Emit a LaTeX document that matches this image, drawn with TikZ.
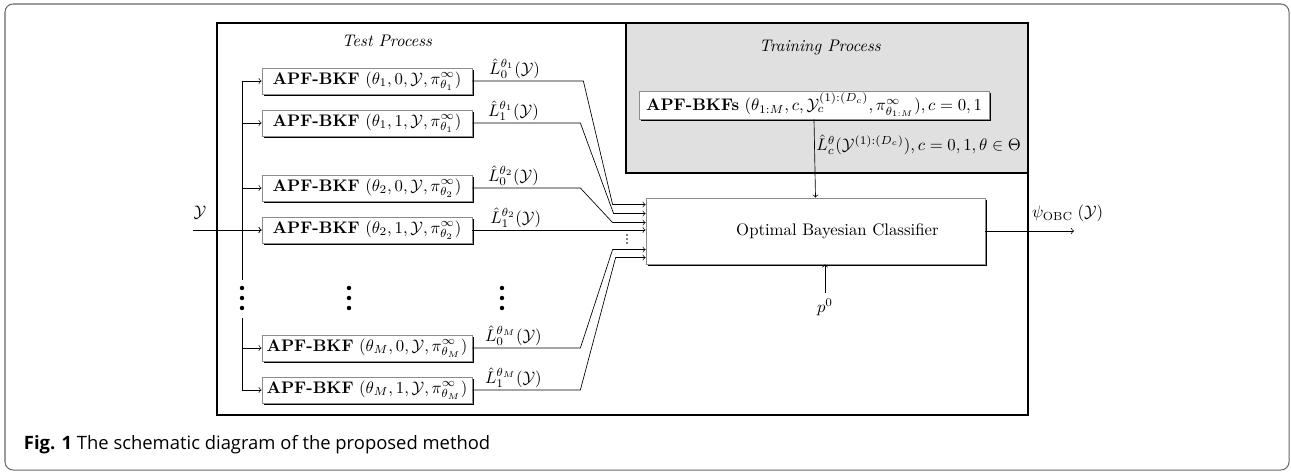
\documentclass[tikz,border=0pt]{standalone}
\usepackage{amsmath}
\usepackage{fontspec}
\newfontfamily\capfont{Open Sans}
\usetikzlibrary{shapes,arrows,positioning,calc,shadows}
\tikzstyle{bkfblock}=[rectangle, draw=black!45, fill=white, align=center, minimum width=44.1mm, minimum height=5.5mm, inner xsep=2pt, inner ysep=1pt, drop shadow={shadow xshift=0.42mm, shadow yshift=-0.42mm, fill=black, opacity=1}]
\tikzstyle{trainblock}=[bkfblock, minimum width=73.5mm, minimum height=5.9mm]
\tikzstyle{obcblock}=[bkfblock, minimum width=71.2mm, minimum height=13.9mm]
\tikzstyle{outlbl}=[above, pos=0.38, inner sep=1pt]

\begin{document}
\begin{tikzpicture}[x=0.021cm, y=-0.021cm, every node/.style = {font=\normalsize}, >=to]
\useasboundingbox (0,0) rectangle (1291,472);

% frames
\draw[black!60, line width=0.6pt, rounded corners=1.7mm] (5,4) rectangle (1289,470);
\draw[line width=1.1pt] (217,23) rectangle (1028,415);
\draw[line width=1.1pt, fill=black!12] (626,23) rectangle (1028,173);

\node (testlbl) at (387,41) {\textit{Test Process}};
\node (trainlbl) at (820,47) {\textit{Training Process}};

\node[bkfblock] (b1) at (367,81) {\textbf{APF-BKF} $(\theta_1,0,\mathcal{Y},\pi^{\infty}_{\theta_1})$};
\node[bkfblock] (b2) at (367,123) {\textbf{APF-BKF} $(\theta_1,1,\mathcal{Y},\pi^{\infty}_{\theta_1})$};
\node[bkfblock] (b3) at (367,188) {\textbf{APF-BKF} $(\theta_2,0,\mathcal{Y},\pi^{\infty}_{\theta_2})$};
\node[bkfblock] (b4) at (367,230) {\textbf{APF-BKF} $(\theta_2,1,\mathcal{Y},\pi^{\infty}_{\theta_2})$};
\node[bkfblock] (bM0) at (367,348) {\textbf{APF-BKF} $(\theta_M,0,\mathcal{Y},\pi^{\infty}_{\theta_M})$};
\node[bkfblock] (bM1) at (367,390) {\textbf{APF-BKF} $(\theta_M,1,\mathcal{Y},\pi^{\infty}_{\theta_M})$};

\node[trainblock] (train) at (814,105) {\textbf{APF-BKFs} $(\theta_{1:M},c,\mathcal{Y}_c^{(1):(D_c)},\pi^{\infty}_{\theta_{1:M}}), c=0,1$};
\node[obcblock] (obc) at (815.5,231) {\hspace*{9.2mm}Optimal Bayesian Classifier};

\node (p0) at (825,307) {$p^0$};
\node (ylbl) at (200,213) {$\mathcal{Y}$};
\node[anchor=south west, inner sep=1pt] (psi) at (1030,224) {$\psi_{\mathrm{OBC}}\;(\mathcal{Y})$};
\coordinate (yin) at (193,230);
\coordinate (bustop) at (242,81);
\coordinate (outend) at (1074,231);

% vertical dots
\foreach \xx in {242,349,502}
  \foreach \yy in {288,298,308}
    \fill (\xx,\yy) circle (0.47mm);
\foreach \yy in {235,239,243}
  \fill (627,\yy) circle (0.16mm);

% input bus
\draw[->] (yin) -- (b4.west);
\draw[->] (bustop) -- (b1.west);
\draw (bustop) -- (242,280);
\draw[->] (242,318) |- (bM1.west);
\foreach \b in {b2,b3,b4,bM0}
  \draw[->] (\b.west -| bustop) -- (\b.west);

% likelihood outputs
\draw[->] (b1.east) -- node[outlbl] {$\hat{L}_0^{\theta_1}(\mathcal{Y})$} ++(111,0) -- ($(obc.north west)+(-33,7)$) -- ($(obc.north west)+(0,7)$);
\draw[->] (b2.east) -- node[outlbl] {$\hat{L}_1^{\theta_1}(\mathcal{Y})$} ++(108,0) -- ($(obc.north west)+(-32,16)$) -- ($(obc.north west)+(0,16)$);
\draw[->] (b3.east) -- node[outlbl] {$\hat{L}_0^{\theta_2}(\mathcal{Y})$} ++(108,0) -- ($(obc.north west)+(-33,25)$) -- ($(obc.north west)+(0,25)$);
\draw[->] (b4.east) -- node[outlbl, pos=0.25] {$\hat{L}_1^{\theta_2}(\mathcal{Y})$} (b4.east -| obc.west);
\draw[->] (bM0.east) -- node[outlbl] {$\hat{L}_0^{\theta_M}(\mathcal{Y})$} ++(108,0) -- ($(obc.north west)+(-33,52)$) -- ($(obc.north west)+(0,52)$);
\draw[->] (bM1.east) -- node[outlbl] {$\hat{L}_1^{\theta_M}(\mathcal{Y})$} ++(108,0) -- ($(obc.north west)+(-30,60)$) -- ($(obc.north west)+(0,60)$);

% training, prior, output
\draw[->] (train.south) -- node[right, pos=0.32, inner sep=1pt] {$\hat{L}_c^{\theta}(\mathcal{Y}^{(1):(D_c)}), c=0,1,\theta\in\Theta$} (obc.north);
\draw[->] (p0.north) -- (p0.north |- obc.south);
\draw[->] (obc.east) -- (outend);

\node[anchor=west] (cap) at (18,445) {\capfont\fontsize{11}{13}\selectfont\textbf{Fig. 1} The schematic diagram of the proposed method};

\end{tikzpicture}
\end{document}
